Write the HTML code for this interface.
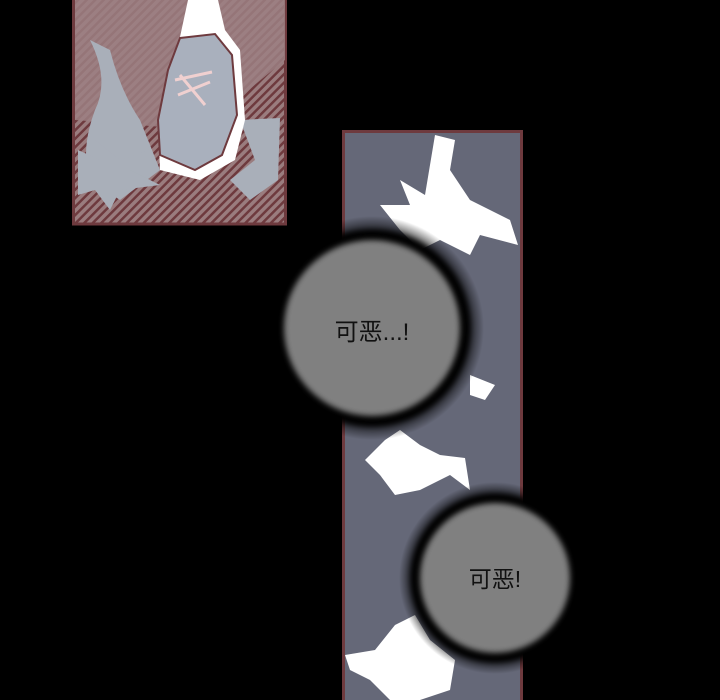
<!DOCTYPE html>
<html><head><meta charset="utf-8"><style>
html,body{margin:0;padding:0;background:#000;width:720px;height:700px;overflow:hidden}
</style></head><body>
<svg width="720" height="700" viewBox="0 0 720 700" xmlns="http://www.w3.org/2000/svg">
<defs>
<pattern id="st" width="6" height="6" patternUnits="userSpaceOnUse" patternTransform="rotate(45)">
<rect width="6" height="6" fill="#9a7c7e"/><rect width="2.5" height="6" fill="#6e3a3e"/>
</pattern>
<filter id="bl"><feGaussianBlur stdDeviation="3"/></filter>
<radialGradient id="h1"><stop offset="0.8" stop-color="#000"/><stop offset="1" stop-color="#000" stop-opacity="0"/></radialGradient>
</defs>
<rect width="720" height="700" fill="#000"/>
<!-- top-left panel -->
<rect x="73.5" y="-2" width="212" height="226" fill="url(#st)" stroke="#6e3a3e" stroke-width="3"/>
<polygon points="75,0 285,0 285,60 200,130 75,120" fill="#9c8082" opacity="0.85"/>
<path d="M90,40 Q110,80 95,110 Q80,150 90,180 L120,200 L160,170 L140,120 Q120,90 110,50 Z" fill="#a9afb9"/>
<path d="M78,150 L100,160 L95,140 L120,160 L150,150 L130,170 L160,185 L120,190 L110,210 L95,190 L78,195 Z" fill="#a9afb9"/>
<path d="M240,120 L280,118 L278,180 L250,200 L230,180 L255,160 Z" fill="#a9afb9"/>
<path d="M188,0 L218,0 L225,30 L240,50 L245,120 L235,160 L200,180 L160,170 L158,120 L175,60 Z" fill="#fff"/>
<path d="M180,38 L215,34 L232,55 L237,115 L222,155 L195,170 L160,155 L158,120 L168,70 Z" fill="#a9b0bd" stroke="#6e3a3e" stroke-width="2"/>
<path d="M175,80 L212,72 M178,95 L210,82 M180,75 L205,105" stroke="#f0d0d0" stroke-width="3"/>
<!-- right panel -->
<rect x="343.5" y="131.5" width="178" height="572" fill="#656878" stroke="#6e3a3e" stroke-width="3"/>
<path d="M435,135 L455,140 L450,170 L470,200 L510,220 L518,245 L480,235 L470,255 L440,240 L420,250 L400,230 L380,205 L410,205 L400,180 L425,195 Z" fill="#fff"/>
<path d="M470,375 L495,385 L485,400 L470,395 Z" fill="#fff"/>
<path d="M365,460 L385,440 L400,430 L420,445 L440,455 L465,458 L470,490 L450,475 L420,490 L395,495 L380,475 Z" fill="#fff"/>
<path d="M345,655 L375,650 L395,625 L415,615 L430,640 L455,660 L450,690 L420,700 L390,700 L370,680 L350,670 Z" fill="#fff"/>
<!-- bubbles -->
<circle cx="372" cy="328" r="112" fill="url(#h1)"/>
<circle cx="372" cy="328" r="98" fill="#000" filter="url(#bl)"/>
<circle cx="372" cy="328" r="88" fill="#808080" filter="url(#bl)"/>
<text x="372" y="340" text-anchor="middle" font-family="'Liberation Sans','Noto Sans CJK SC',sans-serif" font-size="24" fill="#111">可恶...!</text>
<circle cx="495" cy="578" r="96" fill="url(#h1)"/>
<circle cx="495" cy="578" r="84" fill="#000" filter="url(#bl)"/>
<circle cx="495" cy="578" r="75" fill="#808080" filter="url(#bl)"/>
<text x="495" y="587" text-anchor="middle" font-family="'Liberation Sans','Noto Sans CJK SC',sans-serif" font-size="23" fill="#111">可恶!</text>
</svg>
</body></html>
